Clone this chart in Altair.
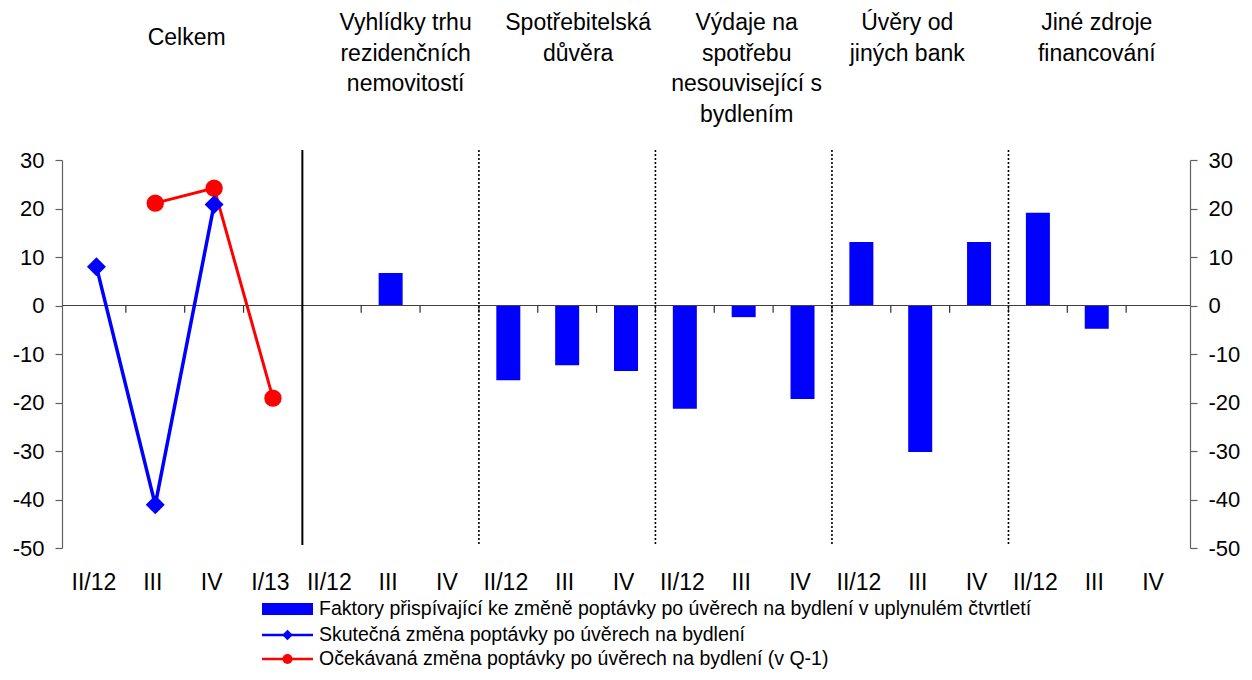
import json
import altair as alt
import pandas as pd

FONT = "Liberation Sans"

# ---- data -------------------------------------------------------------
x_labels = ["II/12", "III", "IV", "I/13",
            "II/12", "III", "IV",
            "II/12", "III", "IV",
            "II/12", "III", "IV",
            "II/12", "III", "IV",
            "II/12", "III", "IV"]
group_titles = ["Celkem",
                "Vyhlídky trhu\nrezidenčních\nnemovitostí",
                "Spotřebitelská\ndůvěra",
                "Výdaje na\nspotřebu\nnesouvisející s\nbydlením",
                "Úvěry od\njiných bank",
                "Jiné zdroje\nfinancování"]
group_sizes = [4, 3, 3, 3, 3, 3]

# factors (bars), categories 5..19
factor_values = [0, 6.7, 0,
                 -15.4, -12.3, -13.5,
                 -21.3, -2.4, -19.3,
                 13.1, -30.2, 13.1,
                 19.1, -4.8, 0]
# actual change (blue), categories 1..3
actual_values = [8.0, -41.1, 20.8]
# expected change (red), categories 2..4
expected_values = [21.1, 24.2, -19.1]

legend_labels = [
    "Faktory přispívající ke změně poptávky po úvěrech na bydlení v uplynulém čtvrtletí",
    "Skutečná změna poptávky po úvěrech na bydlení",
    "Očekávaná změna poptávky po úvěrech na bydlení (v Q-1)",
]
y_ticks = [-50, -40, -30, -20, -10, 0, 10, 20, 30]

# ---- tables -----------------------------------------------------------
n = len(x_labels)
first_bar = group_sizes[0]
bars_df = pd.DataFrame({"pos": [first_bar + i + 0.5 for i in range(len(factor_values))],
                        "value": factor_values})
actual_df = pd.DataFrame({"pos": [i + 0.5 for i in range(len(actual_values))],
                          "value": actual_values})
expected_df = pd.DataFrame({"pos": [i + 1.5 for i in range(len(expected_values))],
                            "value": expected_values})

bounds = []
acc = 0
for s in group_sizes[:-1]:
    acc += s
    bounds.append(acc)
centers = []
acc = 0
for s in group_sizes:
    centers.append(acc + s / 2)
    acc += s

ticks_df = pd.DataFrame({"pos": list(range(1, n))})
solid_df = pd.DataFrame({"pos": bounds[:1]})
dotted_df = pd.DataFrame({"pos": bounds[1:]})

xscale = alt.Scale(domain=[0, n], nice=False, zero=False)
yscale = alt.Scale(domain=[-50, 30], nice=False, zero=False)

label_expr = json.dumps(x_labels, ensure_ascii=False) + "[floor(datum.value)]"

x_axis = alt.Axis(orient="bottom", values=[i + 0.5 for i in range(n)], labelExpr=label_expr,
                  domain=False, ticks=False, tickSize=0, labelPadding=23, labelOffset=-3,
                  grid=False, title=None, labelFontSize=23, labelFont=FONT,
                  labelColor="black", labelAngle=0)


def yaxis(orient, pad):
    return alt.Axis(orient=orient, values=y_ticks, tickSize=7, tickColor="#606060",
                    domainColor="#606060", domainWidth=1.2, tickWidth=1.2,
                    labelExpr="'' + datum.value",
                    labelFontSize=22, labelFont=FONT, labelColor="black",
                    labelPadding=pad, grid=False, title=None)


bars = alt.Chart(bars_df).mark_bar(size=24, color="#0000FF").encode(
    x=alt.X("pos:Q", scale=xscale, axis=x_axis),
    y=alt.Y("value:Q", scale=yscale, axis=yaxis("left", 11)),
)

zero = alt.Chart(bars_df).mark_rule(color="#404040", strokeWidth=1.2).encode(
    y=alt.Y(datum=0, scale=yscale, axis=None),
)

xticks = alt.Chart(ticks_df).mark_rule(color="#303030", strokeWidth=1.2).encode(
    x=alt.X("pos:Q", scale=xscale, axis=None),
    y=alt.Y(datum=0, scale=yscale, axis=None),
    y2=alt.Y2(datum=-1.5),
)

solid = alt.Chart(solid_df).mark_rule(color="black", strokeWidth=2).encode(
    x=alt.X("pos:Q", scale=xscale, axis=None),
    y=alt.value(-10), y2=alt.value(385),
)
dotted = alt.Chart(dotted_df).mark_rule(color="black", strokeWidth=1.6, strokeDash=[2, 2]).encode(
    x=alt.X("pos:Q", scale=xscale, axis=None),
    y=alt.value(-10), y2=alt.value(385),
)

red_line = alt.Chart(expected_df).mark_line(color="#FF0000", strokeWidth=3).encode(
    x=alt.X("pos:Q", scale=xscale, axis=None),
    y=alt.Y("value:Q", scale=yscale, axis=yaxis("right", 11)),
)
red_pts = alt.Chart(expected_df).mark_point(shape="circle", filled=True, size=300,
                                            color="#FF0000", opacity=1).encode(
    x=alt.X("pos:Q", scale=xscale, axis=None),
    y=alt.Y("value:Q", scale=yscale, axis=None),
)
blue_line = alt.Chart(actual_df).mark_line(color="#0000FF", strokeWidth=3.5).encode(
    x=alt.X("pos:Q", scale=xscale, axis=None),
    y=alt.Y("value:Q", scale=yscale, axis=None),
)
blue_pts = alt.Chart(actual_df).mark_point(shape="diamond", filled=True, size=360,
                                           color="#0000FF", opacity=1).encode(
    x=alt.X("pos:Q", scale=xscale, axis=None),
    y=alt.Y("value:Q", scale=yscale, axis=None),
)

# group titles
title_dx = [2, 15, 11, 3, -13, 0]
title_y = [-133, -148, -148, -148, -148, -148]
title_layers = []
for t, c, dx, ty in zip(group_titles, centers, title_dx, title_y):
    tdf = pd.DataFrame({"pos": [c], "txt": [t]})
    title_layers.append(
        alt.Chart(tdf).mark_text(font=FONT, fontSize=23, color="black", align="center",
                                 baseline="top", lineBreak="\n", lineHeight=30.5, dx=dx).encode(
            x=alt.X("pos:Q", scale=xscale, axis=None),
            y=alt.value(ty),
            text="txt:N",
        )
    )

# manual legend (pixel placement below the plot)
leg_y = [449, 475, 499]
one = pd.DataFrame({"k": [0]})
lx0, lx1, ltxt = 200, 251, 257
leg_rect = alt.Chart(one).mark_rect(color="#0000FF").encode(
    x=alt.value(lx0), x2=alt.value(lx1), y=alt.value(leg_y[0] - 6), y2=alt.value(leg_y[0] + 6))
leg_blue_line = alt.Chart(one).mark_rule(color="#0000FF", strokeWidth=2.5).encode(
    x=alt.value(lx0), x2=alt.value(lx1), y=alt.value(leg_y[1]))
leg_blue_pt = alt.Chart(one).mark_point(shape="diamond", filled=True, size=110,
                                        color="#0000FF", opacity=1).encode(
    x=alt.value((lx0 + lx1) / 2), y=alt.value(leg_y[1]))
leg_red_line = alt.Chart(one).mark_rule(color="#FF0000", strokeWidth=2.5).encode(
    x=alt.value(lx0), x2=alt.value(lx1), y=alt.value(leg_y[2]))
leg_red_pt = alt.Chart(one).mark_point(shape="circle", filled=True, size=100,
                                       color="#FF0000", opacity=1).encode(
    x=alt.value((lx0 + lx1) / 2), y=alt.value(leg_y[2]))
leg_text_layers = []
for lab, ly in zip(legend_labels, leg_y):
    ldf = pd.DataFrame({"txt": [lab]})
    leg_text_layers.append(
        alt.Chart(ldf).mark_text(font=FONT, fontSize=19.5, color="black", align="left",
                                 baseline="middle").encode(
            x=alt.value(ltxt), y=alt.value(ly), text="txt:N"))

chart = alt.layer(
    bars, zero, xticks, solid, dotted, red_line, red_pts, blue_line, blue_pts,
    *title_layers,
    leg_rect, leg_blue_line, leg_blue_pt, leg_red_line, leg_red_pt, *leg_text_layers,
).resolve_axis(x="independent", y="independent").properties(
    width=1128, height=388,
    padding={"left": 54, "top": 152, "right": 54, "bottom": 124},
    autosize=alt.AutoSizeParams(type="none"),
    background="white",
).configure_view(stroke=None)

chart.save("out.html", embed_options={"renderer": "svg", "actions": False})
